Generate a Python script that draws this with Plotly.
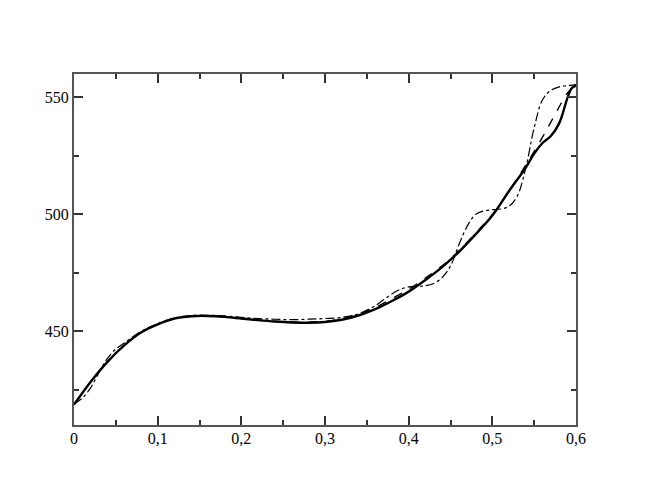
import plotly.graph_objects as go

x_solid = [0, 0.02, 0.04, 0.06, 0.08, 0.10, 0.12, 0.14, 0.16, 0.18, 0.20, 0.22, 0.24, 0.26,
           0.28, 0.30, 0.32, 0.34, 0.36, 0.38, 0.40, 0.42, 0.44, 0.46, 0.48, 0.50, 0.52,
           0.54, 0.55, 0.56, 0.565, 0.57, 0.58, 0.59, 0.595, 0.60]
y_solid = [418.7, 428.5, 437, 444, 449.5, 453, 455.5, 456.5, 456.6, 456.2, 455.5, 454.8,
           454.2, 453.8, 453.7, 454, 455, 456.8, 459.5, 463, 467, 472, 477.5, 484, 491.5,
           499.5, 510, 520, 526, 530.5, 532, 533.5, 539, 550, 554, 555]

x_dash = [0, 0.02, 0.04, 0.06, 0.08, 0.10, 0.12, 0.14, 0.16, 0.18, 0.20, 0.22, 0.24, 0.26,
          0.28, 0.30, 0.32, 0.34, 0.36, 0.38, 0.40, 0.42, 0.44, 0.46, 0.48, 0.50, 0.52,
          0.545, 0.56, 0.57, 0.58, 0.59, 0.60]
y_dash = [418.7, 428.5, 437, 444, 449.5, 453, 455.5, 456.5, 456.6, 456.2, 455.5, 454.8,
          454.3, 454, 454, 454.3, 455.4, 457.3, 460.2, 464, 468, 472.8, 478, 484.5, 492,
          500, 510, 524, 533, 539.5, 546, 552, 555]

x_dashdot = [0, 0.01, 0.02, 0.03, 0.04, 0.05, 0.06, 0.08, 0.10, 0.12, 0.14, 0.16, 0.18,
             0.20, 0.22, 0.24, 0.26, 0.28, 0.30, 0.32, 0.34, 0.36, 0.37, 0.38, 0.39, 0.40,
             0.42, 0.43, 0.44, 0.45, 0.46, 0.47, 0.48, 0.49, 0.50, 0.51, 0.52, 0.53, 0.54,
             0.55, 0.56, 0.57, 0.58, 0.59, 0.60]
y_dashdot = [419, 421.5, 426, 432.5, 438.5, 442.5, 445, 450, 453.3, 455.7, 456.8, 456.9,
             456.6, 456, 455.5, 455.2, 455, 455.2, 455.5, 456, 457.5, 461, 463.5, 466, 468,
             469, 469.5, 470.5, 473, 478, 487, 495, 500, 501.5, 502, 502.3, 503.5, 508,
             520, 537, 549, 553, 554.5, 555, 555.5]

fig = go.Figure()
fig.add_trace(go.Scatter(x=x_dashdot, y=y_dashdot, mode='lines',
                         line=dict(color='black', width=1.2, dash='dashdot', shape='spline')))
fig.add_trace(go.Scatter(x=x_dash, y=y_dash, mode='lines',
                         line=dict(color='black', width=1.4, dash='dash', shape='spline')))
fig.add_trace(go.Scatter(x=x_solid, y=y_solid, mode='lines',
                         line=dict(color='black', width=2.4, shape='spline')))

axis_style = dict(showline=True, linecolor='#555555', linewidth=2, mirror='allticks',
                  ticks='inside', ticklen=9, tickwidth=1.5, tickcolor='#333333',
                  showgrid=False, zeroline=False,
                  tickfont=dict(family='Liberation Serif', size=16, color='black'))

fig.update_xaxes(range=[0, 0.6], tick0=0, dtick=0.1, ticklabelstandoff=-2,
                 minor=dict(ticks='inside', ticklen=5, dtick=0.05, tickcolor='#333333'),
                 **axis_style)
fig.update_yaxes(range=[410, 560], tick0=400, dtick=50,
                 minor=dict(ticks='inside', ticklen=5, dtick=25, tickcolor='#333333'),
                 **axis_style)

# page body adds ~8px offset, so margins are trimmed accordingly
fig.update_layout(width=648, height=501, showlegend=False, separators=', ',
                  plot_bgcolor='white', paper_bgcolor='white',
                  margin=dict(l=66, r=80, t=66, b=84))

fig.write_html("out.html")
